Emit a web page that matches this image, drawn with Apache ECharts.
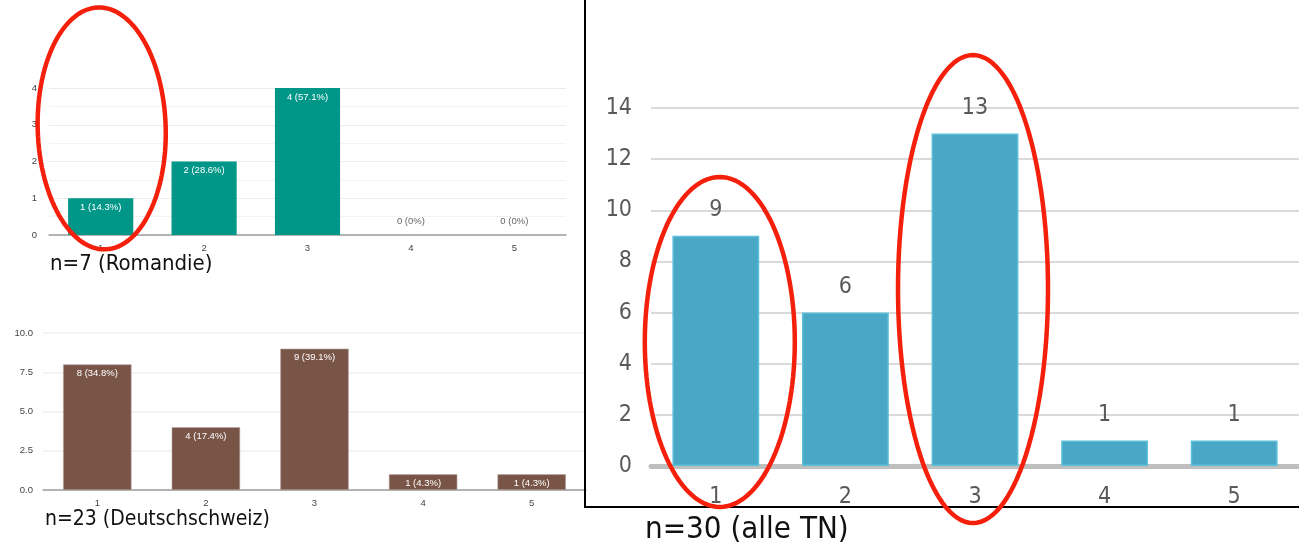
<!DOCTYPE html>
<html>
<head>
<meta charset="utf-8">
<script src="https://cdn.jsdelivr.net/npm/echarts@6/dist/echarts.min.js"></script>
<style>
  html, body { margin: 0; padding: 0; background: #fff; }
  #c { width: 1299px; height: 551px; }
</style>
</head>
<body>
<div id="c"></div>
<script>
// Answer scale 1..5
const categories = ['1', '2', '3', '4', '5'];

// Counts per answer
const romandie = [1, 2, 4, 0, 0];
const deutschschweiz = [8, 4, 9, 1, 1];
const alleTN = [9, 6, 13, 1, 1];

// Group sizes
const nRomandie = 7;
const nDeutsch = 23;
const nAlle = 30;

// Tick settings
const romandieMax = 4;
const deutschMax = 10;
const alleMax = 14;

const NARROW = "'Liberation Sans Narrow', 'DejaVu Sans Condensed', 'Roboto Condensed', sans-serif";
const SMALL = "Arial, 'Liberation Sans', Roboto, sans-serif";

function pctLabel(v, n) {
  const p = v === 0 ? '0%' : (v / n * 100).toFixed(1) + '%';
  return v + ' (' + p + ')';
}

function formsData(values, n) {
  return values.map(v => v === 0
    ? { value: v, label: { position: 'top', color: '#666', distance: 9, formatter: pctLabel(v, n) } }
    : { value: v, label: { formatter: pctLabel(v, n) } });
}

const chart = echarts.init(document.getElementById('c'), null, { renderer: 'canvas' });

const option = {
  animation: false,
  backgroundColor: '#fff',
  grid: [
    { left: 49, top: 88, width: 517, height: 147 },
    { left: 43, top: 333, width: 543, height: 157 },
    { left: 651, top: 108, width: 653, height: 358 }
  ],
  xAxis: [
    {
      gridIndex: 0, type: 'category', data: categories,
      axisLine: { lineStyle: { color: '#9e9e9e', width: 1.5 } },
      axisTick: { show: false },
      axisLabel: { color: '#444', fontSize: 9.5, fontFamily: SMALL, margin: 8 }
    },
    {
      gridIndex: 1, type: 'category', data: categories,
      axisLine: { lineStyle: { color: '#9e9e9e', width: 1.5 } },
      axisTick: { show: false },
      axisLabel: { color: '#444', fontSize: 9.5, fontFamily: SMALL, margin: 8 }
    },
    {
      gridIndex: 2, type: 'category', data: categories,
      axisLine: { lineStyle: { color: '#bfbfbf', width: 5 } },
      axisTick: { show: false },
      axisLabel: { color: '#595959', fontSize: 23, fontFamily: NARROW, margin: 20 }
    }
  ],
  yAxis: [
    {
      gridIndex: 0, type: 'value', min: 0, max: romandieMax, interval: 1,
      axisLine: { show: false }, axisTick: { show: false },
      axisLabel: { color: '#444', fontSize: 9.5, fontFamily: SMALL, margin: 12 },
      splitLine: { lineStyle: { color: '#ececec', width: 1 } },
      minorTick: { show: false, splitNumber: 2 },
      minorSplitLine: { show: true, lineStyle: { color: '#f3f3f3', width: 1 } }
    },
    {
      gridIndex: 1, type: 'value', min: 0, max: deutschMax, interval: 2.5,
      axisLine: { show: false }, axisTick: { show: false },
      axisLabel: { color: '#444', fontSize: 9.5, fontFamily: SMALL, margin: 10,
        formatter: v => v.toFixed(1) },
      splitLine: { lineStyle: { color: '#efefef', width: 1.5 } }
    },
    {
      gridIndex: 2, type: 'value', min: 0, max: alleMax, interval: 2,
      axisLine: { show: false }, axisTick: { show: false },
      axisLabel: { color: '#595959', fontSize: 23, fontFamily: NARROW, margin: 19 },
      splitLine: { lineStyle: { color: '#dadada', width: 2 } }
    }
  ],
  series: [
    {
      type: 'bar', xAxisIndex: 0, yAxisIndex: 0,
      data: formsData(romandie, nRomandie),
      barWidth: '63%',
      itemStyle: { color: '#009688' },
      label: { show: true, position: 'insideTop', distance: 4, color: '#fff',
        fontSize: 9.5, fontFamily: SMALL }
    },
    {
      type: 'bar', xAxisIndex: 1, yAxisIndex: 1,
      data: formsData(deutschschweiz, nDeutsch),
      barWidth: '63%',
      itemStyle: { color: '#795548', borderColor: '#b7a49d', borderWidth: 0.6 },
      label: { show: true, position: 'insideTop', distance: 4, color: '#fff',
        fontSize: 9.5, fontFamily: SMALL }
    },
    {
      type: 'bar', xAxisIndex: 2, yAxisIndex: 2,
      data: alleTN,
      barWidth: '67%',
      itemStyle: { color: '#4aa8c6', borderColor: '#5cbfda', borderWidth: 1.5 },
      label: { show: true, position: 'top', distance: 14, color: '#595959',
        fontSize: 23, fontFamily: NARROW }
    }
  ]
};

chart.setOption(option);

// Hand-drawn style ellipses around chosen answers
function ellipsePoints(cx, cy, rx, ry, rot) {
  const pts = [];
  const c = Math.cos(rot), s = Math.sin(rot);
  for (let a = 0; a < 360; a += 3) {
    const t = a * Math.PI / 180;
    const x = rx * Math.cos(t), y = ry * Math.sin(t);
    pts.push([cx + x * c - y * s, cy + x * s + y * c]);
  }
  return pts;
}

function ellipseAround(gridIndex, cat, yVal, dx, rx, ry, rot) {
  const p = chart.convertToPixel({ gridIndex: gridIndex }, [cat, yVal]);
  return {
    type: 'polygon', z: 100, silent: true,
    shape: { points: ellipsePoints(p[0] + dx, p[1], rx, ry, rot || 0) },
    style: { fill: 'none', stroke: '#f4200c', lineWidth: 4.5 }
  };
}

const frame = { stroke: '#000', lineWidth: 2 };

chart.setOption({
  graphic: [
    { type: 'line', z: 90, shape: { x1: 585, y1: 0, x2: 585, y2: 507 }, style: frame },
    { type: 'line', z: 90, shape: { x1: 584, y1: 507, x2: 1299, y2: 507 }, style: frame },
    ellipseAround(0, '1', 2.9, 1, 64, 121, -0.03),
    ellipseAround(2, '1', 4.85, 4, 75, 165, 0),
    ellipseAround(2, '3', 6.92, -2, 75, 234, 0),
    { type: 'text', left: 50, top: 253, z: 50,
      style: { text: 'n=' + nRomandie + ' (Romandie)', fill: '#111', fontSize: 22, fontFamily: NARROW } },
    { type: 'text', left: 45, top: 509, z: 50,
      style: { text: 'n=' + nDeutsch + ' (Deutschschweiz)', fill: '#111', fontSize: 21, fontFamily: NARROW } },
    { type: 'text', left: 645, top: 514, z: 50,
      style: { text: 'n=' + nAlle + ' (alle TN)', fill: '#111', fontSize: 31, fontFamily: NARROW } }
  ]
});
</script>
</body>
</html>
